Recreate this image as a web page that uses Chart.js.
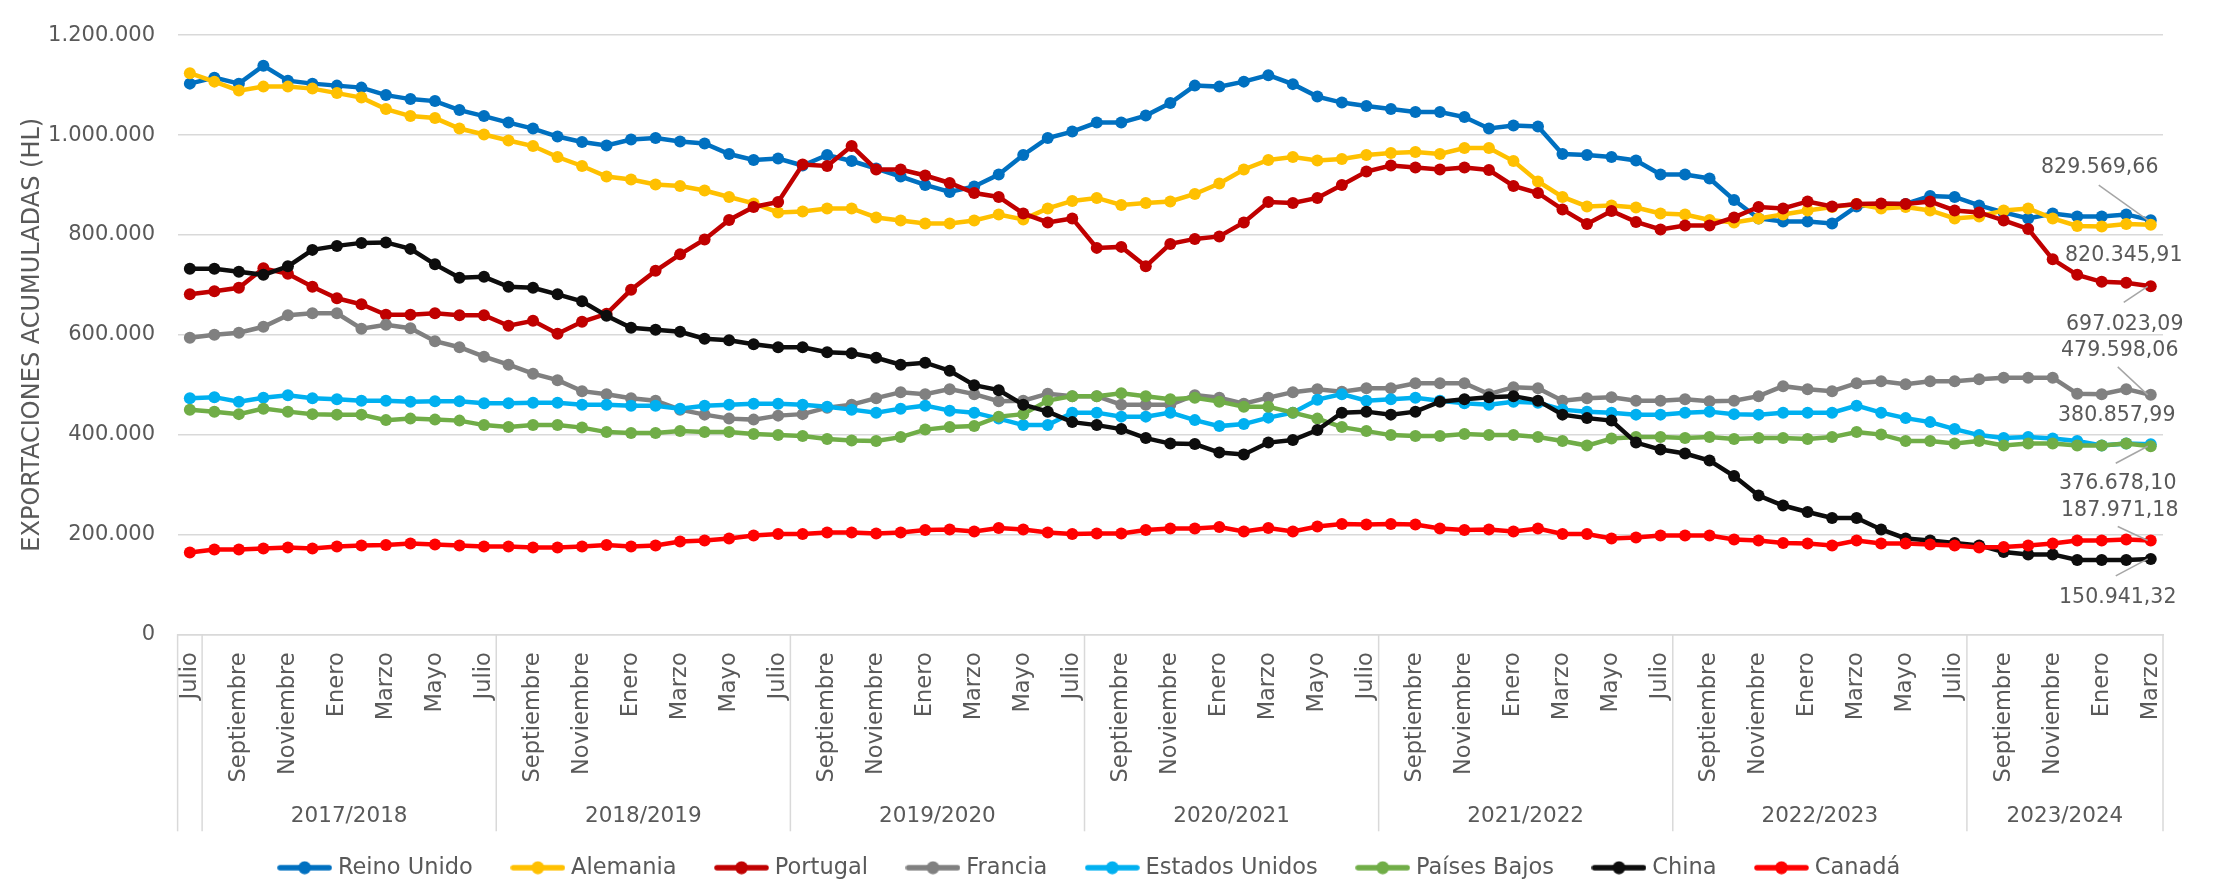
<!DOCTYPE html>
<html lang="es">
<head>
<meta charset="utf-8">
<title>Exportaciones acumuladas (HL)</title>
<script src="https://cdn.jsdelivr.net/npm/chart.js@4.4.1/dist/chart.umd.min.js"></script>
<style>
  html, body { margin: 0; padding: 0; background: #ffffff; }
  #wrap { width: 2216px; height: 886px; }
</style>
</head>
<body>
<div id="wrap"><canvas id="exportChart" width="2216" height="886"></canvas></div>
<script>
// 81 months, Julio 2017 .. Marzo 2024
const monthNames = ['Julio', 'Agosto', 'Septiembre', 'Octubre', 'Noviembre', 'Diciembre',
  'Enero', 'Febrero', 'Marzo', 'Abril', 'Mayo', 'Junio'];
const categories = [];
for (let i = 0; i < 81; i++) categories.push(monthNames[i % 12]);

// second level of the axis (campaigns)
const seasonLabels = ['', '2017/2018', '2018/2019', '2019/2020', '2020/2021', '2021/2022', '2022/2023', '2023/2024'];
const seasonSizes = [1, 12, 12, 12, 12, 12, 12, 8];

const yTicks = [0, 200000, 400000, 600000, 800000, 1000000, 1200000];

const reinoUnido = [1103000, 1115000, 1103000, 1139000, 1109000, 1103000, 1099000, 1095000, 1080000, 1072000, 1068000, 1050000, 1038000, 1025000, 1013000, 997000, 986000, 979000, 991000, 994000, 987000, 983000,
  962000, 950000, 953000, 939000, 960000, 948000, 933000, 917000, 900000, 886000, 897000, 921000, 960000, 994000, 1007000, 1025000, 1025000, 1039000, 1064000, 1099000, 1097000,
  1107000, 1120000, 1102000, 1077000, 1065000, 1058000, 1052000, 1046000, 1046000, 1036000, 1013000, 1019000, 1017000, 962000, 960000, 956000, 949000, 921000, 921000, 913000, 870000,
  833000, 827000, 827000, 823000, 857000, 862000, 862000, 878000, 876000, 859000, 845000, 833000, 843000, 837000, 837000, 841000, 829569.66];
const alemania = [1124000, 1107000, 1089000, 1097000, 1097000, 1093000, 1084000, 1075000, 1052000, 1038000, 1034000, 1013000, 1001000, 989000, 978000, 956000, 938000, 917000, 911000, 901000, 898000, 889000,
  876000, 863000, 845000, 847000, 853000, 853000, 835000, 829000, 823000, 823000, 829000, 841000, 831000, 853000, 868000, 874000, 860000, 864000, 867000, 882000, 903000,
  931000, 950000, 956000, 949000, 952000, 960000, 964000, 966000, 962000, 974000, 974000, 948000, 907000, 876000, 857000, 859000, 855000, 843000, 841000, 830000, 825000,
  833000, 841000, 849000, 856000, 862000, 853000, 856000, 849000, 833000, 837000, 849000, 853000, 833000, 818000, 817000, 822000, 820345.91];
const portugal = [681000, 687000, 694000, 733000, 722000, 696000, 673000, 661000, 640000, 640000, 643000, 639000, 639000, 618000, 628000, 602000, 626000, 642000, 690000, 728000, 761000, 791000,
  830000, 856000, 866000, 941000, 938000, 978000, 931000, 931000, 919000, 904000, 884000, 876000, 843000, 825000, 833000, 774000, 776000, 737000, 782000, 792000, 797000,
  825000, 866000, 864000, 874000, 900000, 927000, 939000, 935000, 931000, 935000, 930000, 898000, 884000, 851000, 822000, 848000, 826000, 811000, 819000, 819000, 835000,
  856000, 853000, 867000, 857000, 862000, 863000, 862000, 867000, 849000, 845000, 829000, 812000, 751000, 720000, 706000, 704000, 697023.09];
const francia = [594000, 600000, 604000, 616000, 639000, 643000, 643000, 612000, 620000, 613000, 587000, 575000, 556000, 540000, 522000, 509000, 487000, 481000, 473000, 468000, 450000, 440000,
  432000, 430000, 438000, 441000, 454000, 460000, 473000, 485000, 481000, 491000, 481000, 467000, 468000, 482000, 477000, 477000, 460000, 460000, 460000, 479000, 474000,
  462000, 474000, 485000, 491000, 486000, 493000, 493000, 503000, 503000, 503000, 481000, 495000, 493000, 468000, 473000, 475000, 468000, 468000, 471000, 467000, 468000,
  477000, 497000, 491000, 487000, 503000, 507000, 501000, 507000, 507000, 511000, 514000, 514000, 514000, 482000, 481000, 491000, 479598.06];
const estadosUnidos = [473000, 475000, 466000, 474000, 479000, 473000, 471000, 468000, 468000, 466000, 467000, 467000, 463000, 463000, 464000, 464000, 460000, 460000, 458000, 458000, 452000, 458000,
  460000, 462000, 462000, 460000, 456000, 450000, 444000, 452000, 458000, 448000, 444000, 432000, 419000, 419000, 444000, 444000, 436000, 436000, 444000, 429000, 417000,
  421000, 434000, 444000, 470000, 481000, 468000, 471000, 474000, 468000, 463000, 460000, 466000, 464000, 450000, 446000, 444000, 440000, 440000, 444000, 446000, 441000,
  440000, 444000, 444000, 444000, 458000, 444000, 433000, 425000, 411000, 399000, 393000, 395000, 392000, 387000, 378000, 382000, 380857.99];
const paisesBajos = [450000, 446000, 441000, 452000, 446000, 441000, 440000, 440000, 429000, 432000, 430000, 428000, 419000, 415000, 419000, 419000, 414000, 405000, 403000, 403000, 407000, 405000,
  405000, 401000, 399000, 397000, 391000, 388000, 387000, 395000, 410000, 415000, 417000, 436000, 441000, 468000, 477000, 477000, 483000, 477000, 471000, 474000, 466000,
  456000, 456000, 444000, 432000, 415000, 407000, 399000, 397000, 397000, 401000, 399000, 399000, 395000, 387000, 378000, 392000, 395000, 395000, 393000, 395000, 391000,
  393000, 393000, 391000, 395000, 405000, 400000, 387000, 387000, 382000, 387000, 378000, 382000, 382000, 378000, 378000, 382000, 376678.10];
const china = [732000, 732000, 726000, 720000, 737000, 770000, 778000, 784000, 785000, 772000, 741000, 714000, 716000, 696000, 694000, 681000, 667000, 638000, 614000, 610000, 606000, 592000,
  589000, 581000, 575000, 575000, 565000, 563000, 554000, 540000, 544000, 528000, 499000, 489000, 460000, 446000, 425000, 419000, 411000, 393000, 382000, 381000, 364000,
  360000, 384000, 389000, 409000, 444000, 446000, 440000, 446000, 466000, 471000, 475000, 477000, 468000, 440000, 433000, 428000, 384000, 370000, 362000, 348000, 317000,
  278000, 258000, 245000, 233000, 233000, 210000, 192000, 188000, 183000, 178000, 165000, 160000, 160000, 149000, 149000, 149000, 150941.32];
const canada = [164000, 170000, 170000, 172000, 174000, 172000, 176000, 178000, 179000, 182000, 180000, 178000, 176000, 176000, 174000, 174000, 176000, 179000, 176000, 178000, 186000, 188000,
  192000, 198000, 201000, 201000, 204000, 204000, 202000, 204000, 209000, 210000, 206000, 213000, 210000, 204000, 201000, 202000, 202000, 209000, 212000, 212000, 215000,
  206000, 213000, 206000, 216000, 221000, 220000, 221000, 220000, 212000, 209000, 210000, 206000, 212000, 201000, 201000, 192000, 194000, 198000, 198000, 198000, 190000,
  188000, 183000, 182000, 178000, 188000, 182000, 182000, 180000, 178000, 174000, 175000, 178000, 182000, 188000, 188000, 190000, 187971.18];

const seriesNames = ['Reino Unido', 'Alemania', 'Portugal', 'Francia', 'Estados Unidos', 'Países Bajos', 'China', 'Canadá'];
const seriesValues = [reinoUnido, alemania, portugal, francia, estadosUnidos, paisesBajos, china, canada];
const seriesColors = ['#0070C0', '#FFC000', '#C00000', '#808080', '#00B0F0', '#70AD47', '#0D0D0D', '#FF0000'];

const FONT = "'DejaVu Sans', sans-serif";
const TEXT_COLOR = '#595959';
const GRID_COLOR = '#d9d9d9';

// labels on the last point: offsets of the text centre and of the leader end, from the point
const endLabels = [
  { ds: 0, dx: -51, dy: -52, lead: [-52, -35] },
  { ds: 1, dx: -27, dy: 31, lead: null },
  { ds: 2, dx: -26, dy: 38, lead: [-27, 16] },
  { ds: 3, dx: -31, dy: -44, lead: [-33, -28] },
  { ds: 4, dx: -34, dy: -28, lead: null },
  { ds: 5, dx: -33, dy: 37, lead: [-35, 17] },
  { ds: 7, dx: -31, dy: -30, lead: [-33, -14] },
  { ds: 6, dx: -33, dy: 39, lead: [-35, 17] },
];

function formatNumber(value, decimals) {
  const parts = value.toFixed(decimals).split('.');
  const intPart = parts[0].replace(/\B(?=(\d{3})+(?!\d))/g, '.');
  return parts[1] ? `${intPart},${parts[1]}` : intPart;
}

function makeLegendIcon(color) {
  const c = document.createElement('canvas');
  c.width = 55;
  c.height = 14;
  const ctx = c.getContext('2d');
  ctx.strokeStyle = color;
  ctx.lineWidth = 5.5;
  ctx.lineCap = 'round';
  ctx.beginPath();
  ctx.moveTo(3, 7);
  ctx.lineTo(52, 7);
  ctx.stroke();
  ctx.fillStyle = color;
  ctx.beginPath();
  ctx.arc(27.5, 7, 6.5, 0, Math.PI * 2);
  ctx.fill();
  return c;
}
const legendIcons = seriesColors.map(makeLegendIcon);

const seasonAxisPlugin = {
  id: 'seasonAxis',
  afterDraw(chart) {
    const { ctx, chartArea } = chart;
    const xScale = chart.scales.x;
    const step = xScale.getPixelForValue(1) - xScale.getPixelForValue(0);
    const top = chartArea.bottom;
    const lineBottom = top + 197;
    ctx.save();
    ctx.strokeStyle = GRID_COLOR;
    ctx.lineWidth = 1.5;
    ctx.fillStyle = TEXT_COLOR;
    ctx.font = `21.5px ${FONT}`;
    ctx.textAlign = 'center';
    ctx.textBaseline = 'middle';
    let start = 0;
    seasonLabels.forEach((label, i) => {
      const left = xScale.getPixelForValue(start) - step / 2;
      const right = xScale.getPixelForValue(start + seasonSizes[i] - 1) + step / 2;
      ctx.beginPath();
      ctx.moveTo(left, top);
      ctx.lineTo(left, lineBottom);
      ctx.stroke();
      if (i === seasonLabels.length - 1) {
        ctx.beginPath();
        ctx.moveTo(right, top);
        ctx.lineTo(right, lineBottom);
        ctx.stroke();
      }
      if (label) ctx.fillText(label, (left + right) / 2, top + 182);
      start += seasonSizes[i];
    });
    ctx.restore();
  },
};

const endLabelPlugin = {
  id: 'endLabels',
  afterDatasetsDraw(chart) {
    const { ctx } = chart;
    ctx.save();
    ctx.font = `20.5px ${FONT}`;
    ctx.fillStyle = TEXT_COLOR;
    ctx.strokeStyle = '#a6a6a6';
    ctx.lineWidth = 1.5;
    ctx.textAlign = 'center';
    ctx.textBaseline = 'middle';
    endLabels.forEach((cfg) => {
      const values = seriesValues[cfg.ds];
      const last = values.length - 1;
      const pt = chart.getDatasetMeta(cfg.ds).data[last];
      if (cfg.lead) {
        ctx.beginPath();
        ctx.moveTo(pt.x - 3, pt.y);
        ctx.lineTo(pt.x + cfg.lead[0], pt.y + cfg.lead[1]);
        ctx.stroke();
      }
      ctx.fillText(formatNumber(values[last], 2), pt.x + cfg.dx, pt.y + cfg.dy);
    });
    ctx.restore();
  },
};

const datasets = seriesNames.map((name, i) => ({
  label: name,
  data: seriesValues[i],
  borderColor: seriesColors[i],
  backgroundColor: seriesColors[i],
  pointBackgroundColor: seriesColors[i],
  pointBorderColor: seriesColors[i],
  borderWidth: 4.5,
  pointRadius: 6,
  pointBorderWidth: 0,
  pointStyle: 'circle',
  tension: 0,
  order: seriesNames.length - i,
}));

new Chart(document.getElementById('exportChart'), {
  type: 'line',
  data: { labels: categories, datasets },
  options: {
    responsive: false,
    animation: false,
    devicePixelRatio: 1,
    layout: { padding: { left: 20, right: 53, top: 17.7, bottom: -3 } },
    plugins: {
      legend: {
        position: 'bottom',
        labels: {
          usePointStyle: true,
          pointStyleWidth: 44,
          padding: 43,
          color: TEXT_COLOR,
          font: { family: FONT, size: 22.5 },
          sort: (a, b) => a.datasetIndex - b.datasetIndex,
          generateLabels(chart) {
            const items = Chart.defaults.plugins.legend.labels.generateLabels(chart);
            items.forEach((item) => { item.pointStyle = legendIcons[item.datasetIndex]; });
            return items;
          },
        },
      },
      tooltip: { enabled: false },
    },
    scales: {
      x: {
        type: 'category',
        offset: true,
        grid: { display: false, drawTicks: false },
        border: { display: true, color: GRID_COLOR, width: 1.5 },
        ticks: {
          autoSkip: false,
          minRotation: 90,
          maxRotation: 90,
          padding: 18,
          color: TEXT_COLOR,
          font: { family: FONT, size: 22.5 },
          callback: (value, index) => (index % 2 === 0 ? categories[index] : ''),
        },
        afterFit(scale) { scale.height = 179.2; },
      },
      y: {
        min: yTicks[0],
        max: yTicks[yTicks.length - 1],
        afterBuildTicks(scale) { scale.ticks = yTicks.map((v) => ({ value: v })); },
        grid: { color: GRID_COLOR, lineWidth: 1.5, drawTicks: false },
        border: { display: false },
        ticks: {
          padding: 22.6,
          color: TEXT_COLOR,
          font: { family: FONT, size: 21 },
          callback: (value) => formatNumber(value, 0),
        },
        title: {
          display: true,
          text: 'EXPORTACIONES ACUMULADAS (HL)',
          color: TEXT_COLOR,
          font: { family: FONT, size: 24, lineHeight: 1 },
          padding: { top: 1, bottom: 0 },
        },
        afterFit(scale) { scale.width = 157.6; },
      },
    },
  },
  plugins: [seasonAxisPlugin, endLabelPlugin],
});
</script>
</body>
</html>
